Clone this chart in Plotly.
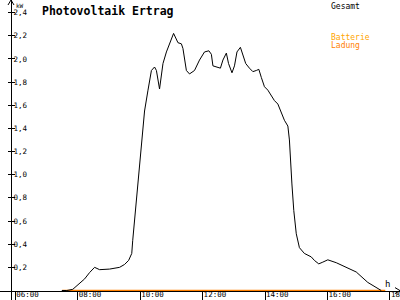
import plotly.graph_objects as go

# Data: hours of day (decimal) and power in kW
hours = [7.49, 7.65, 7.84, 8.06, 8.22, 8.38, 8.54, 8.70, 9.02, 9.34, 9.50, 9.63, 9.73, 9.76, 9.90,
         10.06, 10.14, 10.25, 10.36, 10.46, 10.52, 10.62, 10.73, 10.84, 10.94, 11.07, 11.21, 11.32,
         11.37, 11.48, 11.58, 11.74, 11.90, 12.06, 12.20, 12.28, 12.33, 12.44, 12.57, 12.65, 12.76,
         12.83, 12.94, 13.02, 13.10, 13.21, 13.29, 13.38, 13.50, 13.61, 13.72, 13.80, 13.88, 13.98,
         14.09, 14.20, 14.30, 14.41, 14.52, 14.62, 14.73, 14.78, 14.86, 14.92, 15.00, 15.10, 15.26,
         15.48, 15.58, 15.72, 15.85, 16.01, 16.28, 16.60, 16.92, 17.29, 17.61, 17.72]
gesamt = [0.0, 0.0, 0.01, 0.06, 0.10, 0.155, 0.20, 0.18, 0.185, 0.20, 0.225, 0.26, 0.32, 0.43, 0.86,
          1.31, 1.55, 1.73, 1.90, 1.93, 1.90, 1.74, 1.96, 2.06, 2.13, 2.22, 2.14, 2.13,
          2.09, 1.90, 1.87, 1.90, 1.99, 2.06, 2.07, 2.04, 1.94, 1.93, 1.92, 1.99, 2.05,
          1.96, 1.88, 1.94, 2.06, 2.10, 2.04, 1.96, 1.92, 1.89, 1.90, 1.91, 1.84, 1.76,
          1.73, 1.68, 1.64, 1.61, 1.53, 1.47, 1.42, 1.30, 0.92, 0.69, 0.49, 0.37, 0.32,
          0.29, 0.26, 0.23, 0.245, 0.265, 0.24, 0.20, 0.16, 0.07, 0.015, 0.0]
ladung_hours = [7.50, 17.85]
ladung = [0.0, 0.0]

x_tickvals = [6, 8, 10, 12, 14, 16, 18]
x_ticktext = ["06:00", "08:00", "10:00", "12:00", "14:00", "16:00", "18:00"]
y_tickvals = [0.2, 0.4, 0.6, 0.8, 1.0, 1.2, 1.4, 1.6, 1.8, 2.0, 2.2, 2.4]
y_ticktext = ["0,2", "0,4", "0,6", "0,8", "1,0", "1,2", "1,4", "1,6", "1,8", "2,0", "2,2", "2,4"]

FONT = "DejaVu Sans Mono"
X_RANGE = [5.51, 18.322]
Y_RANGE = [-0.082, 2.5086]
YPOS = 11 / 400
XPOS = (300 - 290.6) / 300

fig = go.Figure()
fig.add_trace(go.Scatter(x=ladung_hours, y=ladung, mode="lines",
                         line=dict(color="#ff8000", width=1.5), name="Ladung",
                         cliponaxis=False))
fig.add_trace(go.Scatter(x=hours, y=gesamt, mode="lines",
                         line=dict(color="black", width=1), name="Gesamt"))
# invisible trace on the overlay axis so it is drawn
fig.add_trace(go.Scatter(x=[hours[0]], y=[gesamt[0]], yaxis="y2", mode="lines",
                         line=dict(width=0), showlegend=False, hoverinfo="skip"))

fig.update_layout(
    width=400, height=300,
    margin=dict(l=0, r=0, t=0, b=0, autoexpand=False),
    paper_bgcolor="white", plot_bgcolor="white",
    showlegend=False,
    font=dict(family=FONT, color="black", size=8),
    xaxis=dict(range=X_RANGE, domain=[0, 1], anchor="free", position=XPOS, automargin=False,
               showgrid=False, zeroline=False, showline=True, linecolor="black", linewidth=1,
               tickvals=x_tickvals, ticktext=x_ticktext, ticks="outside", ticklen=9,
               tickcolor="black", tickwidth=1, ticklabelposition="outside right",
               ticklabeloverflow="allow", ticklabelstandoff=-4,
               tickfont=dict(family=FONT, size=7.5, color="black")),
    yaxis=dict(range=Y_RANGE, domain=[0, 1], anchor="free", position=YPOS, automargin=False,
               showgrid=False, zeroline=False, showline=True, linecolor="black", linewidth=1,
               tickvals=y_tickvals, ticktext=y_ticktext, ticks="outside", ticklen=3,
               tickcolor="black", tickwidth=1, ticklabelposition="inside",
               ticklabeloverflow="allow",
               tickfont=dict(family=FONT, size=7.5, color="black")),
    yaxis2=dict(range=Y_RANGE, domain=[0, 1], anchor="free", position=YPOS, overlaying="y",
                automargin=False, showgrid=False, zeroline=False, showline=False,
                tickvals=y_tickvals, ticks="inside", ticklen=3, tickcolor="black",
                tickwidth=1, showticklabels=False),
)

# axis arrows
fig.add_shape(type="path", xref="paper", yref="paper",
              path=f"M {YPOS-3/400},{1-5/300} L {YPOS},{1} L {YPOS+3/400},{1-5/300}",
              line=dict(color="black", width=1))
fig.add_shape(type="path", xref="paper", yref="paper",
              path=f"M {1-5/400},{XPOS+3/300} L 1,{XPOS} L {1-5/400},{XPOS-3/300}",
              line=dict(color="black", width=1))

fig.add_annotation(x=40/400, y=1-2/300, xref="paper", yref="paper", xanchor="left", yanchor="top",
                   text="<b>Photovoltaik Ertrag</b>", showarrow=False,
                   font=dict(family=FONT, size=11.5, color="black"))
fig.add_annotation(x=14/400, y=1, xref="paper", yref="paper", xanchor="left", yanchor="top",
                   text="kW", showarrow=False, font=dict(family=FONT, size=6, color="black"))
fig.add_annotation(x=383/400, y=(300-277)/300, xref="paper", yref="paper", xanchor="left",
                   yanchor="top", text="h", showarrow=False,
                   font=dict(family=FONT, size=9, color="black"))
fig.add_annotation(x=329/400, y=1, xref="paper", yref="paper", xanchor="left", yanchor="top",
                   text="Gesamt", showarrow=False, font=dict(family=FONT, size=8, color="black"))
fig.add_annotation(x=329/400, y=1-31/300, xref="paper", yref="paper", xanchor="left",
                   yanchor="top", text="Batterie", showarrow=False,
                   font=dict(family=FONT, size=8, color="#ffa500"))
fig.add_annotation(x=329/400, y=1-39/300, xref="paper", yref="paper", xanchor="left",
                   yanchor="top", text="Ladung", showarrow=False,
                   font=dict(family=FONT, size=8, color="#ff8000"))

fig.write_html("out.html")
